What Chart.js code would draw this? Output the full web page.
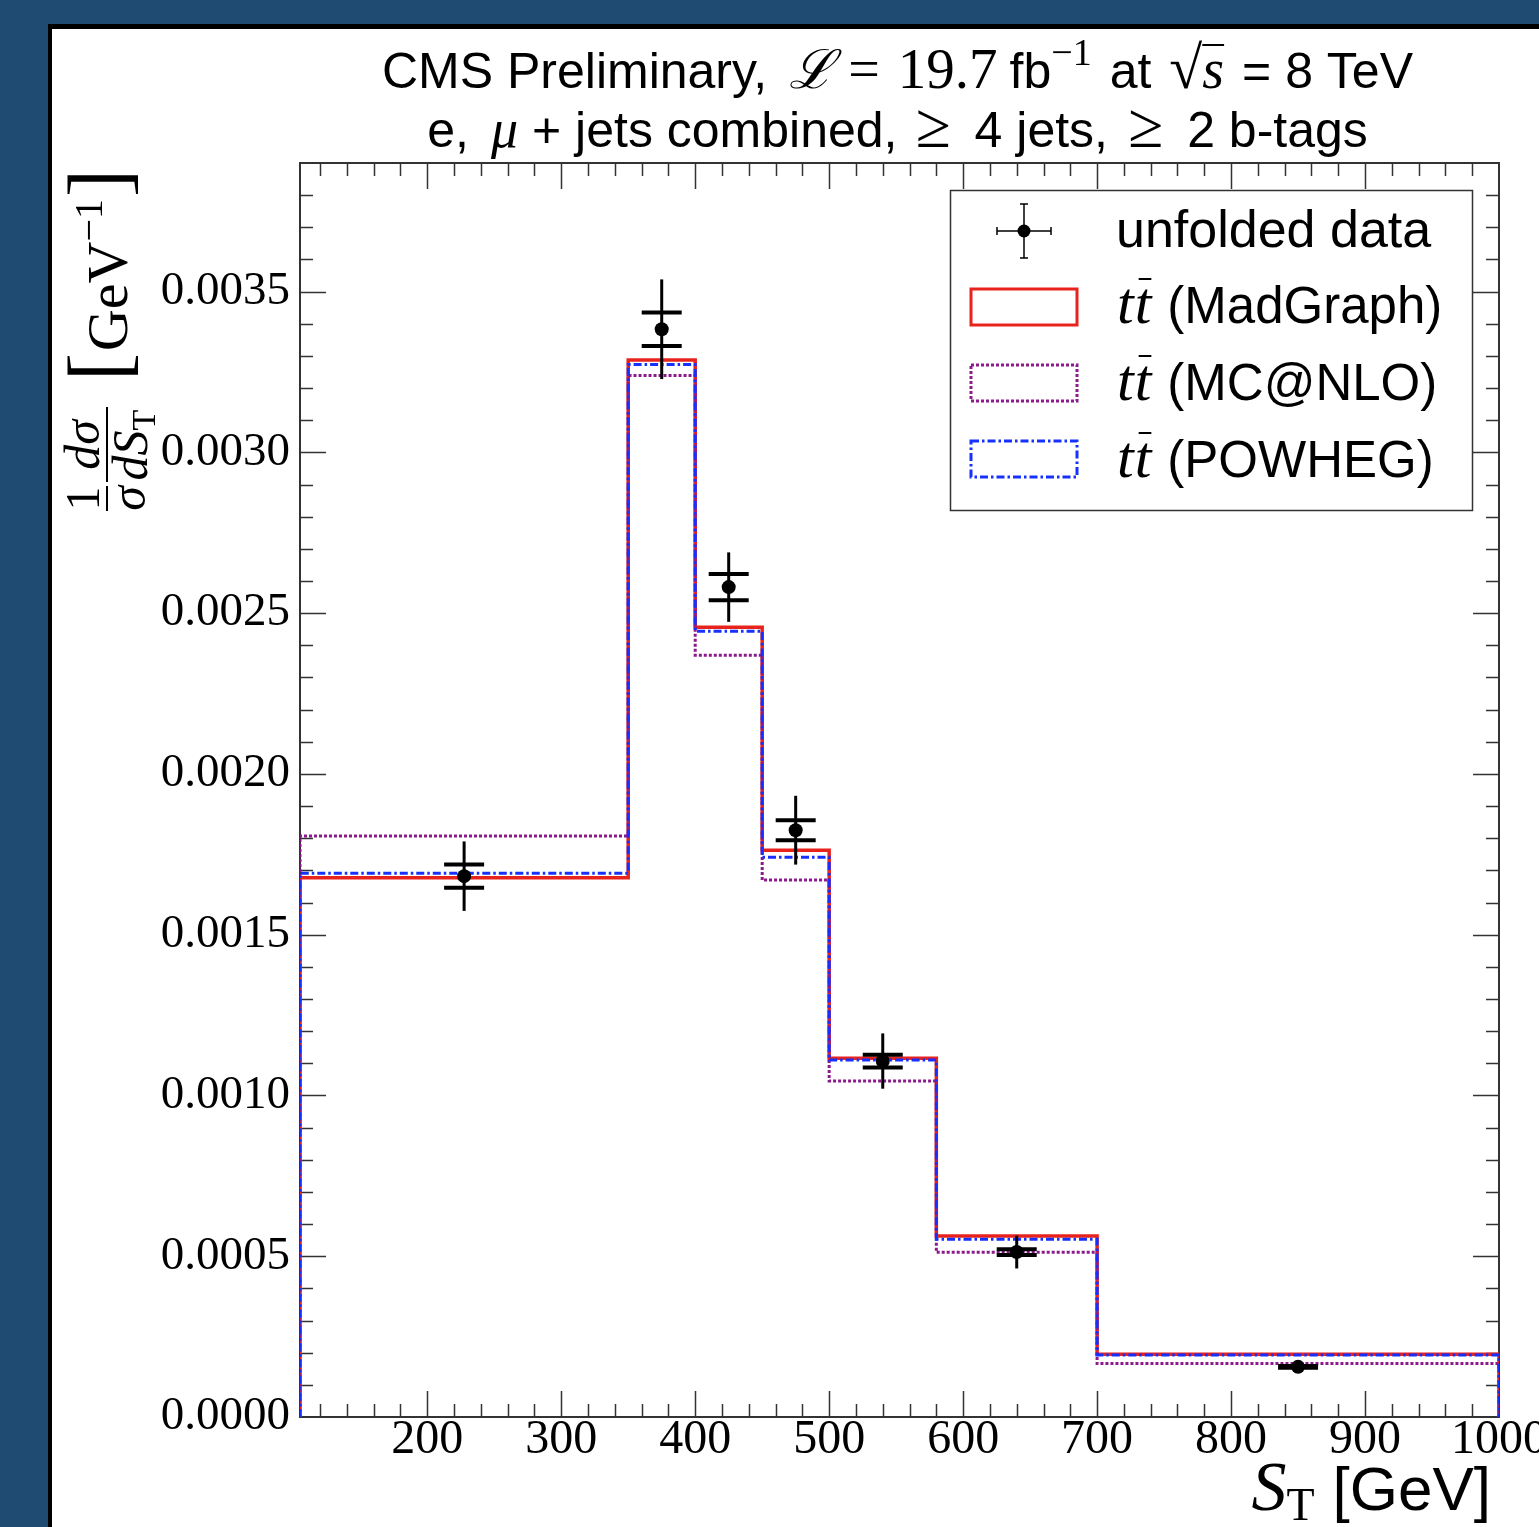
<!DOCTYPE html>
<html>
<head>
<meta charset="utf-8">
<script src="https://cdn.jsdelivr.net/npm/chart.js@4.4.0/dist/chart.umd.min.js"></script>
<style>
  html, body { margin: 0; padding: 0; background: #1f4a72; }
  #wrap { position: relative; width: 1539px; height: 1527px; }
</style>
</head>
<body>
<div id="wrap"><canvas id="myChart" width="1539" height="1527"></canvas></div>
<script>
// bin edges of S_T [GeV]
const binEdges = [105, 350, 400, 450, 500, 580, 700, 1000];

// normalised differential cross section per bin [GeV^-1]
const madgraph = [0.001677, 0.003287, 0.002456, 0.001763, 0.001116, 0.000563, 0.000195];
const mcatnlo  = [0.001807, 0.003239, 0.002369, 0.001670, 0.001045, 0.000512, 0.000166];
const powheg   = [0.001691, 0.003273, 0.002444, 0.001741, 0.001110, 0.000553, 0.000193];

// unfolded data
const dataCenters = [227.5, 375, 425, 475, 540, 640, 850];
const dataValues  = [0.001682, 0.003383, 0.002581, 0.001825, 0.001107, 0.000513, 0.000156];
const dataTotErr  = [0.000108, 0.000155, 0.000108, 0.000107, 0.000086, 0.000051, 0.000006];
const dataStatErr = [0.000036, 0.000052, 0.000041, 0.000031, 0.000020, 0.000009, 0.000003];

// tick labels
const xTicks = [200, 300, 400, 500, 600, 700, 800, 900, 1000];
const yTicks = [0, 0.0005, 0.0010, 0.0015, 0.0020, 0.0025, 0.0030, 0.0035];

const SANS = '"Liberation Sans", Arial, sans-serif';
const SERIF = '"Liberation Serif", "Times New Roman", serif';

// step outline of a histogram, built from the bin edges
function histPoints(vals) {
  let pts = [{x: binEdges[0], y: 0}];
  vals.forEach((v, i) => pts.push({x: binEdges[i], y: v}));
  pts.push({x: binEdges[binEdges.length - 1], y: vals[vals.length - 1]});
  pts.push({x: binEdges[binEdges.length - 1], y: 0});
  return pts;
}

// draws several text pieces one after the other ({gap: n} adds space)
function drawRuns(ctx, runs, x, y, align) {
  let total = 0;
  runs.forEach(r => {
    if (r.gap) { r.w = r.gap; } else { ctx.font = r.font; r.w = ctx.measureText(r.text).width; }
    total += r.w;
  });
  let cx = align === 'center' ? x - total / 2 : (align === 'right' ? x - total : x);
  ctx.textAlign = 'left';
  ctx.textBaseline = 'alphabetic';
  runs.forEach(r => {
    if (!r.gap) {
      ctx.font = r.font;
      ctx.fillText(r.text, cx, y + (r.dy || 0));
      if (r.over) {
        ctx.fillRect(cx + (r.overPad || 0), y - r.over, r.w - (r.overPad || 0), 2);
      }
    }
    cx += r.w;
  });
}

// panel background
const panelPlugin = {
  id: 'panel',
  beforeDraw(chart) {
    const ctx = chart.ctx;
    ctx.save();
    ctx.fillStyle = '#1f4a72';
    ctx.fillRect(0, 0, chart.width, chart.height);
    ctx.fillStyle = '#000';
    ctx.fillRect(48, 24, chart.width, chart.height);
    ctx.fillStyle = '#fff';
    ctx.fillRect(52, 29, chart.width, chart.height);
    ctx.restore();
  }
};

// frame and inward ticks on all four sides
const framePlugin = {
  id: 'frame',
  beforeDatasetsDraw(chart) {
    const ctx = chart.ctx, a = chart.chartArea;
    const xs = chart.scales.x, ys = chart.scales.y;
    ctx.save();
    ctx.strokeStyle = '#333';
    ctx.lineWidth = 1.5;
    ctx.beginPath();
    for (let v = 120; v < 1000; v += 20) {
      const px = Math.round(xs.getPixelForValue(v)) + 0.5;
      const len = v % 100 === 0 ? 26 : 13;
      ctx.moveTo(px, a.bottom); ctx.lineTo(px, a.bottom - len);
      ctx.moveTo(px, a.top); ctx.lineTo(px, a.top + len);
    }
    for (let k = 1; k < 39; k++) {
      const py = Math.round(ys.getPixelForValue(k * 0.0001)) + 0.5;
      const len = k % 5 === 0 ? 26 : 13;
      ctx.moveTo(a.left, py); ctx.lineTo(a.left + len, py);
      ctx.moveTo(a.right, py); ctx.lineTo(a.right - len, py);
    }
    ctx.stroke();
    ctx.lineWidth = 2;
    ctx.strokeStyle = '#333';
    ctx.strokeRect(a.left, a.top, a.right - a.left, a.bottom - a.top);
    ctx.restore();
  }
};

// error bars of the unfolded data
const errorPlugin = {
  id: 'errors',
  beforeDatasetDraw(chart, args) {
    if (args.index !== 0) return;
    const ctx = chart.ctx, xs = chart.scales.x, ys = chart.scales.y;
    ctx.save();
    ctx.strokeStyle = '#000';
    dataCenters.forEach((c, i) => {
      const px = xs.getPixelForValue(c);
      ctx.lineWidth = 3;
      ctx.beginPath();
      ctx.moveTo(px, ys.getPixelForValue(dataValues[i] + dataTotErr[i]));
      ctx.lineTo(px, ys.getPixelForValue(dataValues[i] - dataTotErr[i]));
      ctx.stroke();
      ctx.lineWidth = 4;
      ctx.beginPath();
      [1, -1].forEach(s => {
        const py = ys.getPixelForValue(dataValues[i] + s * dataStatErr[i]);
        ctx.moveTo(px - 20, py); ctx.lineTo(px + 20, py);
      });
      ctx.stroke();
    });
    ctx.restore();
  }
};

// title, axis titles and legend
const textPlugin = {
  id: 'texts',
  afterDraw(chart) {
    const ctx = chart.ctx, a = chart.chartArea;
    const cx = (a.left + a.right) / 2 - 2;
    ctx.save();
    ctx.fillStyle = '#000';

    drawRuns(ctx, [
      {text: 'CMS Preliminary,', font: `50px ${SANS}`},
      {gap: 22},
      {text: 'ℒ', font: `italic 54px ${SERIF}`},
      {gap: 14},
      {text: '=', font: `56px ${SERIF}`},
      {gap: 18},
      {text: '19.7', font: `57px ${SERIF}`},
      {gap: 12},
      {text: 'fb', font: `50px ${SANS}`},
      {text: '−1', font: `38px ${SERIF}`, dy: -23},
      {gap: 18},
      {text: 'at', font: `50px ${SANS}`},
      {gap: 18},
      {text: '√', font: `60px ${SERIF}`},
      {text: 's', font: `italic 56px ${SERIF}`, over: 44},
      {gap: 18},
      {text: '= 8 TeV', font: `50px ${SANS}`}
    ], cx, 88, 'center');

    drawRuns(ctx, [
      {text: 'e,', font: `50px ${SANS}`},
      {gap: 22},
      {text: 'μ', font: `italic 54px ${SERIF}`},
      {gap: 14},
      {text: '+ jets combined,', font: `50px ${SANS}`},
      {gap: 18},
      {text: '≥', font: `64px ${SERIF}`},
      {gap: 24},
      {text: '4 jets,', font: `50px ${SANS}`},
      {gap: 20},
      {text: '≥', font: `64px ${SERIF}`},
      {gap: 24},
      {text: '2 b-tags', font: `50px ${SANS}`}
    ], cx, 147, 'center');

    // x axis title
    drawRuns(ctx, [
      {text: 'S', font: `italic 70px ${SERIF}`},
      {text: 'T', font: `46px ${SERIF}`, dy: 10},
      {gap: 18},
      {text: '[GeV]', font: `62px ${SANS}`}
    ], 1491, 1510, 'right');

    // y axis title, rotated
    ctx.save();
    ctx.translate(107, 511);
    ctx.rotate(-Math.PI / 2);
    ctx.fillRect(0, -1, 25, 2);
    ctx.fillRect(29, -1, 75, 2);
    ctx.textAlign = 'center';
    ctx.font = `48px ${SERIF}`;
    ctx.fillText('1', 12.5, -8);
    ctx.font = `italic 50px ${SERIF}`;
    ctx.fillText('σ', 12.5, 38);
    ctx.fillText('dσ', 66, -8);
    drawRuns(ctx, [
      {text: 'dS', font: `italic 50px ${SERIF}`},
      {text: 'T', font: `34px ${SERIF}`, dy: 8}
    ], 66, 40, 'center');
    drawRuns(ctx, [
      {text: '[', font: `84px ${SERIF}`},
      {gap: 2},
      {text: 'GeV', font: `58px ${SERIF}`},
      {text: '−1', font: `40px ${SERIF}`, dy: -25},
      {gap: 2},
      {text: ']', font: `84px ${SERIF}`}
    ], 130, 20, 'left');
    ctx.restore();

    // legend
    ctx.fillStyle = '#fff';
    ctx.fillRect(950, 190, 522, 320);
    ctx.strokeStyle = '#333';
    ctx.lineWidth = 1.5;
    ctx.strokeRect(950.5, 190.5, 522, 320);

    ctx.strokeStyle = '#000';
    ctx.fillStyle = '#000';
    ctx.lineWidth = 1.5;
    ctx.beginPath();
    ctx.moveTo(997, 231); ctx.lineTo(1051, 231);
    ctx.moveTo(1024, 204); ctx.lineTo(1024, 258);
    ctx.moveTo(997, 227); ctx.lineTo(997, 235);
    ctx.moveTo(1051, 227); ctx.lineTo(1051, 235);
    ctx.moveTo(1020, 204); ctx.lineTo(1028, 204);
    ctx.moveTo(1020, 258); ctx.lineTo(1028, 258);
    ctx.stroke();
    ctx.beginPath();
    ctx.arc(1024, 231, 6.5, 0, Math.PI * 2);
    ctx.fill();

    const patches = [
      {top: 289, color: '#e8231c', width: 3, dash: [], name: '(MadGraph)', base: 323},
      {top: 365, color: '#8b1a8b', width: 3, dash: [3, 2], name: '(MC@NLO)', base: 400},
      {top: 441, color: '#1530ff', width: 3, dash: [8, 3, 2.5, 3], name: '(POWHEG)', base: 477}
    ];
    patches.forEach(p => {
      ctx.strokeStyle = p.color;
      ctx.lineWidth = p.width;
      ctx.setLineDash(p.dash);
      ctx.strokeRect(971, p.top, 106, 36);
      ctx.setLineDash([]);
      ctx.fillStyle = '#000';
      drawRuns(ctx, [
        {text: 't', font: `italic 60px ${SERIF}`},
        {gap: 1},
        {text: 't', font: `italic 60px ${SERIF}`, over: 45, overPad: 4},
        {gap: 16},
        {text: p.name, font: `51px ${SANS}`}
      ], 1117, p.base, 'left');
    });
    ctx.font = `52px ${SANS}`;
    ctx.fillText('unfolded data', 1116, 247);
    ctx.restore();
  }
};

let ctx = document.getElementById('myChart').getContext('2d');
let myChart = new Chart(ctx, {
  type: 'scatter',
  data: {
    datasets: [
      {
        label: 'unfolded data',
        data: dataCenters.map((c, i) => ({x: c, y: dataValues[i]})),
        pointRadius: 7,
        pointBackgroundColor: '#000',
        pointBorderWidth: 0,
        showLine: false
      },
      {
        label: 'POWHEG',
        type: 'line',
        data: histPoints(powheg),
        stepped: true,
        borderColor: '#1530ff',
        borderWidth: 3,
        borderDash: [8, 3, 2.5, 3],
        pointRadius: 0,
        fill: false
      },
      {
        label: 'MC@NLO',
        type: 'line',
        data: histPoints(mcatnlo),
        stepped: true,
        borderColor: '#8b1a8b',
        borderWidth: 3,
        borderDash: [3, 2],
        pointRadius: 0,
        fill: false
      },
      {
        label: 'MadGraph',
        type: 'line',
        data: histPoints(madgraph),
        stepped: true,
        borderColor: '#e8231c',
        borderWidth: 3.5,
        pointRadius: 0,
        fill: false
      }
    ]
  },
  options: {
    responsive: false,
    animation: false,
    layout: { padding: { top: 163, right: 40, left: 0, bottom: 0 } },
    plugins: {
      legend: { display: false },
      title: { display: false },
      tooltip: { enabled: false }
    },
    scales: {
      x: {
        type: 'linear',
        min: 105,
        max: 1000,
        grid: { display: false, drawTicks: false },
        border: { display: false },
        afterBuildTicks: s => { s.ticks = xTicks.map(v => ({value: v})); },
        afterFit: s => { s.height = 110; s.paddingLeft = 0; s.paddingRight = 0; },
        ticks: {
          font: { family: 'Liberation Serif', size: 48 },
          color: '#000',
          padding: -5,
          maxRotation: 0,
          autoSkip: false,
          callback: v => String(v)
        }
      },
      y: {
        type: 'linear',
        min: 0,
        max: 0.0039,
        grid: { display: false, drawTicks: false },
        border: { display: false },
        afterBuildTicks: s => { s.ticks = yTicks.map(v => ({value: v})); },
        afterFit: s => { s.width = 300; s.paddingTop = 0; s.paddingBottom = 0; },
        ticks: {
          font: { family: 'Liberation Serif', size: 47 },
          color: '#000',
          padding: 10,
          callback: v => v.toFixed(4)
        }
      }
    }
  },
  plugins: [panelPlugin, framePlugin, errorPlugin, textPlugin]
});
</script>
</body>
</html>
